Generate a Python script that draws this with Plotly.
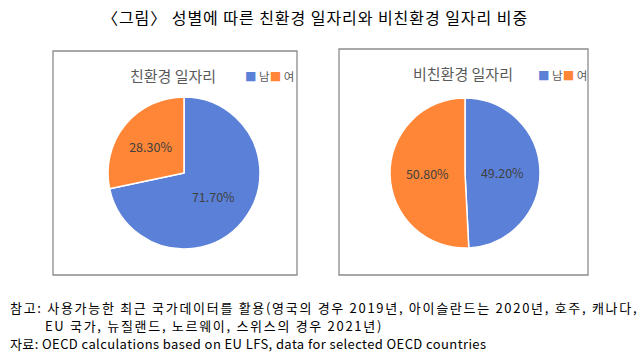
import plotly.graph_objects as go

W, H = 644, 354

categories = ["남", "여"]
green_jobs = [71.70, 28.30]
nongreen_jobs = [49.20, 50.80]
panel_titles = ["친환경 일자리", "비친환경 일자리"]
main_title = "〈그림〉 성별에 따른 친환경 일자리와 비친환경 일자리 비중"
notes = [
    "참고: 사용가능한 최근 국가데이터를 활용(영국의 경우 2019년, 아이슬란드는 2020년, 호주, 캐나다,",
    "EU 국가, 뉴질랜드, 노르웨이, 스위스의 경우 2021년)",
    "자료: OECD calculations based on EU LFS, data for selected OECD countries",
]

colors = ["#5B80D8", "#FF8636"]
KFONT = "Noto Sans CJK KR"


def px_x(x):
    return x / W


def px_y(y):
    return 1 - y / H


def spaced(text, ls):
    return f"<span style='letter-spacing:{ls}px'>{text}</span>"


def pie(values, x0, x1, y0, y1):
    return go.Pie(
        labels=categories,
        values=values,
        sort=False,
        direction="clockwise",
        rotation=0,
        marker=dict(colors=colors, line=dict(color="white", width=1.5)),
        texttemplate="%{value:.2f}%",
        textposition="inside",
        insidetextorientation="horizontal",
        textfont=dict(family=KFONT, size=12.5, color="#404040"),
        domain=dict(x=[px_x(x0), px_x(x1)], y=[px_y(y1), px_y(y0)]),
        showlegend=False,
        hoverinfo="label+percent",
    )


fig = go.Figure()
fig.add_trace(pie(green_jobs, 108, 260, 97, 249))
fig.add_trace(pie(nongreen_jobs, 390, 540, 98, 248))

shapes = [
    dict(type="rect", xref="paper", yref="paper",
         x0=px_x(53), x1=px_x(297), y0=px_y(275), y1=px_y(51),
         line=dict(color="#8C8C8C", width=1.3), fillcolor="rgba(0,0,0,0)", layer="below"),
    dict(type="rect", xref="paper", yref="paper",
         x0=px_x(339), x1=px_x(588), y0=px_y(275), y1=px_y(49),
         line=dict(color="#8C8C8C", width=1.3), fillcolor="rgba(0,0,0,0)", layer="below"),
]

legend_text = (f"<span style='color:{colors[0]}'>■</span> {categories[0]}"
               f"<span style='color:{colors[1]}'>■</span> {categories[1]}")

annotations = [
    dict(text=spaced(main_title, 0.95), x=px_x(100), y=px_y(17), xref="paper", yref="paper",
         showarrow=False, xanchor="left", yanchor="middle",
         font=dict(family=KFONT, size=16, color="#000000")),
    dict(text=panel_titles[0], x=px_x(173), y=px_y(75), xref="paper", yref="paper",
         showarrow=False, xanchor="center", yanchor="middle",
         font=dict(family=KFONT, size=15, color="#595959")),
    dict(text=panel_titles[1], x=px_x(463), y=px_y(73), xref="paper", yref="paper",
         showarrow=False, xanchor="center", yanchor="middle",
         font=dict(family=KFONT, size=15, color="#595959")),
    dict(text=legend_text, x=px_x(243), y=px_y(76), xref="paper", yref="paper",
         showarrow=False, xanchor="left", yanchor="middle",
         font=dict(family=KFONT, size=11.5, color="#595959")),
    dict(text=legend_text, x=px_x(536), y=px_y(75), xref="paper", yref="paper",
         showarrow=False, xanchor="left", yanchor="middle",
         font=dict(family=KFONT, size=11.5, color="#595959")),
    dict(text=spaced(notes[0], 1.7), x=px_x(8), y=px_y(307), xref="paper", yref="paper",
         showarrow=False, xanchor="left", yanchor="middle",
         font=dict(family=KFONT, size=13, color="#000000")),
    dict(text=spaced(notes[1], 1.7), x=px_x(43), y=px_y(325), xref="paper", yref="paper",
         showarrow=False, xanchor="left", yanchor="middle",
         font=dict(family=KFONT, size=13, color="#000000")),
    dict(text=spaced(notes[2], 0.4), x=px_x(8), y=px_y(343), xref="paper", yref="paper",
         showarrow=False, xanchor="left", yanchor="middle",
         font=dict(family=KFONT, size=13, color="#000000")),
]

fig.update_layout(
    width=W, height=H,
    margin=dict(l=0, r=0, t=0, b=0),
    paper_bgcolor="white",
    plot_bgcolor="white",
    shapes=shapes,
    annotations=annotations,
    showlegend=False,
)

fig.write_html("out.html", config={"displayModeBar": False})
